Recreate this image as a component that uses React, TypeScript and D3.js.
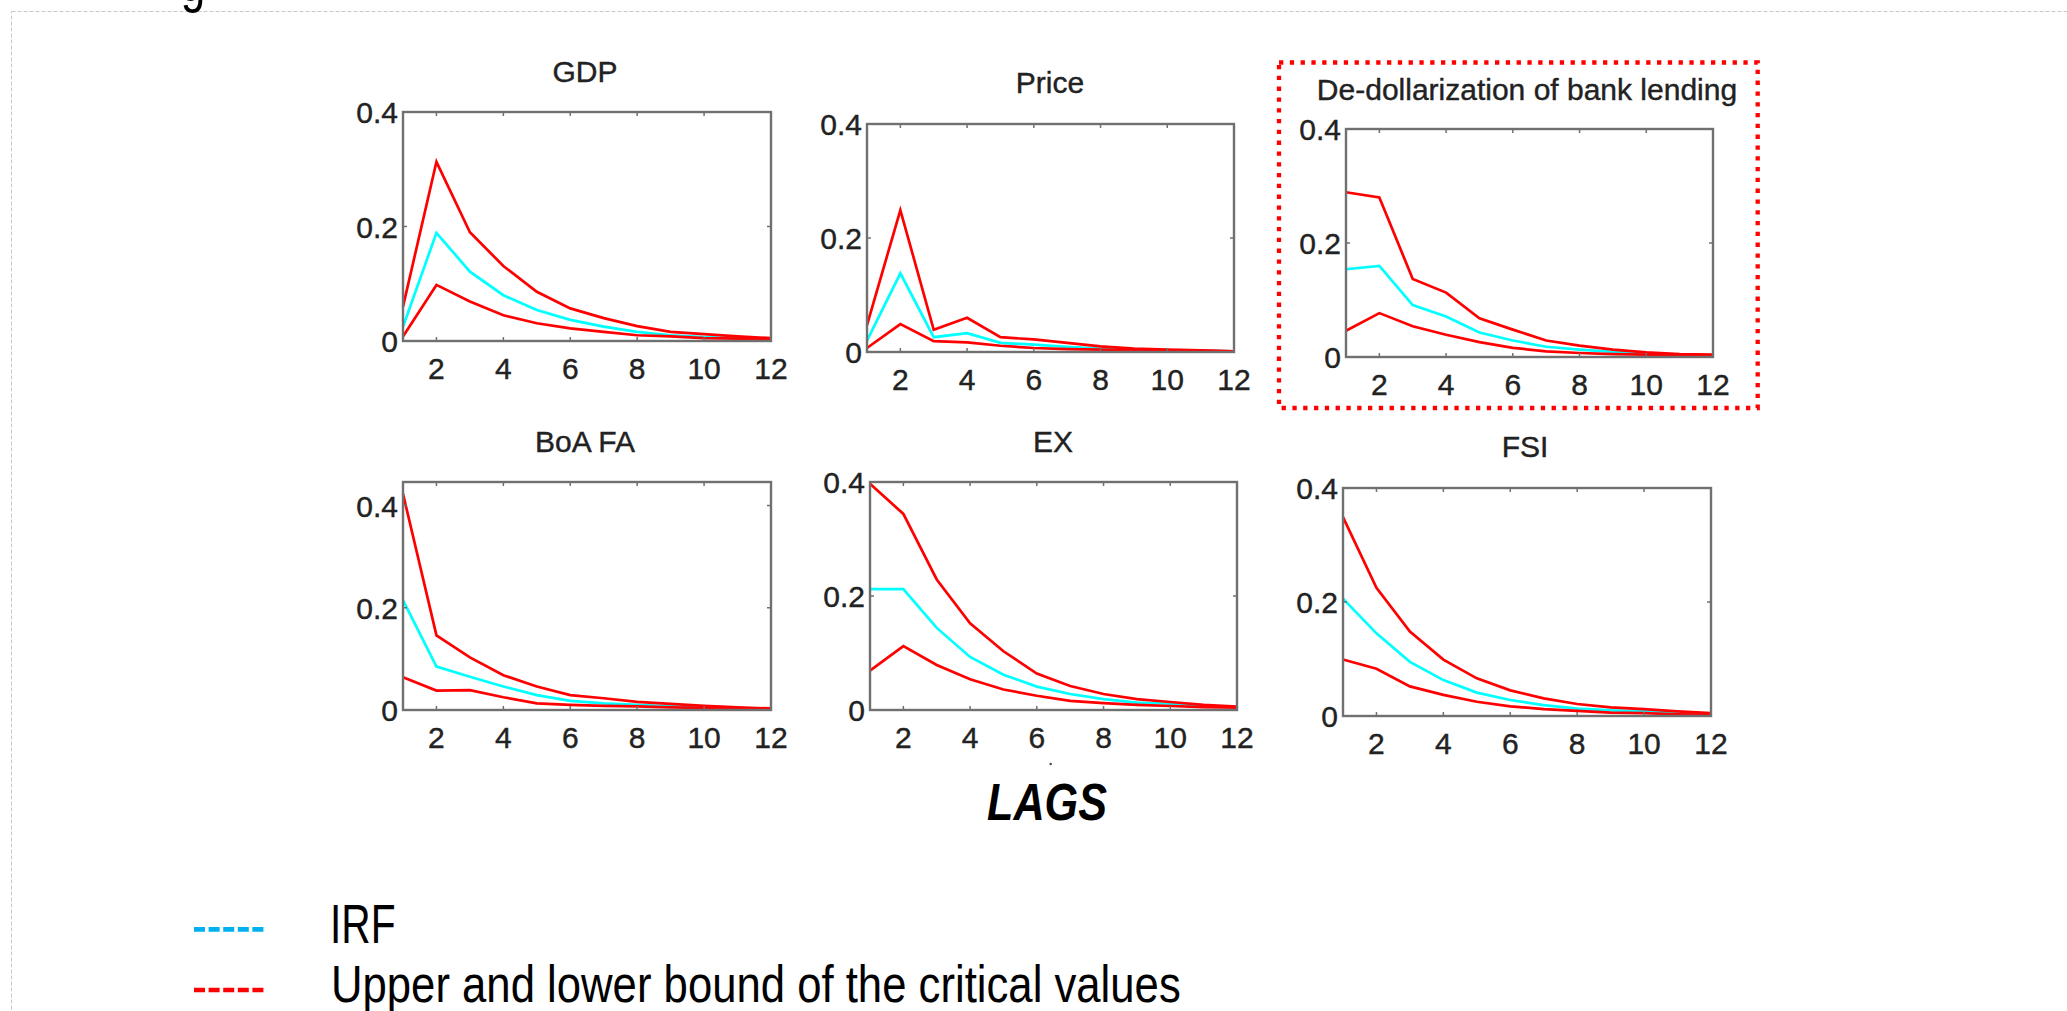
import { useEffect } from "react";
import * as d3 from "d3";

// lag index shared by all panels
const lags = [1, 2, 3, 4, 5, 6, 7, 8, 9, 10, 11, 12];
const xTicks = [2, 4, 6, 8, 10, 12];
const yTicks = [0, 0.2, 0.4];

const titles = ["GDP", "Price", "De-dollarization of bank lending", "BoA FA", "EX", "FSI"];
const yMaxes = [0.4, 0.4, 0.4, 0.446, 0.4, 0.4];

// GDP
const gdpUpper = [0.06, 0.313, 0.19, 0.131, 0.086, 0.057, 0.04, 0.026, 0.016, 0.012, 0.008, 0.005];
const gdpIrf = [0.025, 0.189, 0.121, 0.08, 0.054, 0.037, 0.025, 0.016, 0.01, 0.007, 0.005, 0.003];
const gdpLower = [0.008, 0.098, 0.069, 0.045, 0.031, 0.022, 0.016, 0.01, 0.008, 0.005, 0.004, 0.003];

// Price
const priceUpper = [0.047, 0.249, 0.039, 0.06, 0.026, 0.022, 0.016, 0.01, 0.006, 0.004, 0.003, 0.001];
const priceIrf = [0.02, 0.138, 0.026, 0.033, 0.016, 0.013, 0.009, 0.006, 0.004, 0.003, 0.002, 0.001];
const priceLower = [0.007, 0.049, 0.019, 0.017, 0.011, 0.007, 0.005, 0.004, 0.003, 0.002, 0.002, 0.001];

// De-dollarization of bank lending
const dedolUpper = [0.289, 0.28, 0.137, 0.113, 0.068, 0.048, 0.029, 0.02, 0.013, 0.008, 0.005, 0.004];
const dedolIrf = [0.154, 0.16, 0.091, 0.071, 0.043, 0.029, 0.018, 0.013, 0.009, 0.006, 0.004, 0.003];
const dedolLower = [0.046, 0.077, 0.054, 0.039, 0.026, 0.016, 0.01, 0.007, 0.005, 0.004, 0.003, 0.002];

// BoA FA
const boaUpper = [0.423, 0.146, 0.103, 0.068, 0.046, 0.029, 0.023, 0.016, 0.012, 0.008, 0.005, 0.003];
const boaIrf = [0.215, 0.085, 0.065, 0.046, 0.029, 0.018, 0.013, 0.01, 0.007, 0.005, 0.003, 0.002];
const boaLower = [0.064, 0.038, 0.039, 0.025, 0.013, 0.01, 0.008, 0.007, 0.005, 0.004, 0.003, 0.002];

// EX
const exUpper = [0.397, 0.344, 0.229, 0.152, 0.103, 0.064, 0.042, 0.028, 0.019, 0.014, 0.009, 0.006];
const exIrf = [0.212, 0.212, 0.144, 0.093, 0.062, 0.041, 0.028, 0.019, 0.013, 0.011, 0.007, 0.005];
const exLower = [0.069, 0.112, 0.079, 0.054, 0.036, 0.025, 0.016, 0.012, 0.009, 0.007, 0.005, 0.004];

// FSI
const fsiUpper = [0.349, 0.225, 0.148, 0.099, 0.066, 0.045, 0.031, 0.021, 0.015, 0.012, 0.008, 0.005];
const fsiIrf = [0.206, 0.145, 0.095, 0.063, 0.041, 0.028, 0.019, 0.013, 0.01, 0.008, 0.006, 0.004];
const fsiLower = [0.099, 0.083, 0.052, 0.037, 0.025, 0.017, 0.012, 0.009, 0.006, 0.005, 0.003, 0.002];

const uppers = [gdpUpper, priceUpper, dedolUpper, boaUpper, exUpper, fsiUpper];
const irfs = [gdpIrf, priceIrf, dedolIrf, boaIrf, exIrf, fsiIrf];
const lowers = [gdpLower, priceLower, dedolLower, boaLower, exLower, fsiLower];

const legendLabels = ["IRF", "Upper and lower bound of the critical values"];

// panel placement on the page
const boxes = [
  { left: 403, right: 771, top: 112, bottom: 341, tx: 585, ty: 82 },
  { left: 867, right: 1234, top: 124, bottom: 352, tx: 1050, ty: 93 },
  { left: 1346, right: 1713, top: 129, bottom: 357, tx: 1527, ty: 100 },
  { left: 403, right: 771, top: 482, bottom: 710, tx: 585, ty: 452 },
  { left: 870, right: 1237, top: 482, bottom: 710, tx: 1053, ty: 452 },
  { left: 1343, right: 1711, top: 488, bottom: 716, tx: 1525, ty: 457 },
];

const FONT = "'Liberation Sans', Arial, sans-serif";
const AXIS = "#707070";
const INK = "#222";

const Panel = ({ i }: { i: number }) => {
  const b = boxes[i];
  const x = d3.scaleLinear().domain([1, 12]).range([b.left, b.right]);
  const y = d3.scaleLinear().domain([0, yMaxes[i]]).range([b.bottom, b.top]);
  const line = d3
    .line<number>()
    .x((_, k) => x(lags[k]))
    .y((d) => y(d));

  return (
    <g>
      <text x={b.tx} y={b.ty} textAnchor="middle" fontSize={30} fill={INK} stroke={INK} strokeWidth={0.4}>
        {titles[i]}
      </text>
      <path d={line(irfs[i]) ?? ""} fill="none" stroke="#00ffff" strokeWidth={2.7} />
      <path d={line(lowers[i]) ?? ""} fill="none" stroke="#ff0000" strokeWidth={2.7} />
      <path d={line(uppers[i]) ?? ""} fill="none" stroke="#ff0000" strokeWidth={2.7} />
      <rect
        x={b.left}
        y={b.top}
        width={b.right - b.left}
        height={b.bottom - b.top}
        fill="none"
        stroke={AXIS}
        strokeWidth={2.4}
      />
      {xTicks.map((t) => (
        <g key={"x" + t}>
          <line x1={x(t)} x2={x(t)} y1={b.bottom} y2={b.bottom - 4} stroke={AXIS} strokeWidth={1.5} />
          <line x1={x(t)} x2={x(t)} y1={b.top} y2={b.top + 4} stroke={AXIS} strokeWidth={1.5} />
          <text x={x(t)} y={b.bottom + 38} textAnchor="middle" fontSize={30} fill={INK} stroke={INK} strokeWidth={0.4}>
            {t}
          </text>
        </g>
      ))}
      {yTicks.map((t) => (
        <g key={"y" + t}>
          <line x1={b.left} x2={b.left + 4} y1={y(t)} y2={y(t)} stroke={AXIS} strokeWidth={1.5} />
          <line x1={b.right} x2={b.right - 4} y1={y(t)} y2={y(t)} stroke={AXIS} strokeWidth={1.5} />
          <text x={b.left - 5} y={y(t) + 11} textAnchor="end" fontSize={30} fill={INK} stroke={INK} strokeWidth={0.4}>
            {t === 0 ? "0" : t.toFixed(1)}
          </text>
        </g>
      ))}
    </g>
  );
};

const App = () => {
  useEffect(() => {
    document.body.style.margin = "0";
    document.body.style.overflow = "hidden";
  }, []);

  return (
    <svg width={2067} height={1011} style={{ display: "block", background: "#fff" }} fontFamily={FONT}>
      {/* slide frame */}
      <rect x={11.5} y={11.5} width={2200} height={1200} fill="none" stroke="#c8c8c8" strokeWidth={1} strokeDasharray="4 2" />
      {/* descender of a cut-off heading above the frame */}
      <text x={193} y={1} textAnchor="middle" fontSize={55} transform="translate(193,0) scale(0.8,1) translate(-193,0)" fill="#000">
        g
      </text>

      {titles.map((_, i) => (
        <Panel key={i} i={i} />
      ))}

      {/* highlighted panel */}
      <rect x={1279} y={62.5} width={478.7} height={345.5} fill="none" stroke="#ff0000" strokeWidth={4.3} strokeDasharray="4.3 6.5" />

      <circle cx={1050.7} cy={764} r={1.3} fill="#555" />
      <text
        x={1047}
        y={820}
        textAnchor="middle"
        fontSize={52}
        fontWeight="bold"
        fontStyle="italic"
        transform="translate(1047,0) scale(0.83,1) translate(-1047,0)"
      >
        LAGS
      </text>

      {/* legend */}
      <line x1={194} x2={263.5} y1={929.3} y2={929.3} stroke="#00b0f0" strokeWidth={4.7} strokeDasharray="11 3.6" />
      <line x1={194} x2={263.5} y1={990} y2={990} stroke="#ff0000" strokeWidth={4.7} strokeDasharray="11 3.6" />
      <text x={330} y={943.5} fontSize={55} transform="translate(330,0) scale(0.74,1) translate(-330,0)">
        {legendLabels[0]}
      </text>
      <text x={331} y={1002.5} fontSize={52} transform="translate(331,0) scale(0.84,1) translate(-331,0)">
        {legendLabels[1]}
      </text>
    </svg>
  );
};

export default App;
